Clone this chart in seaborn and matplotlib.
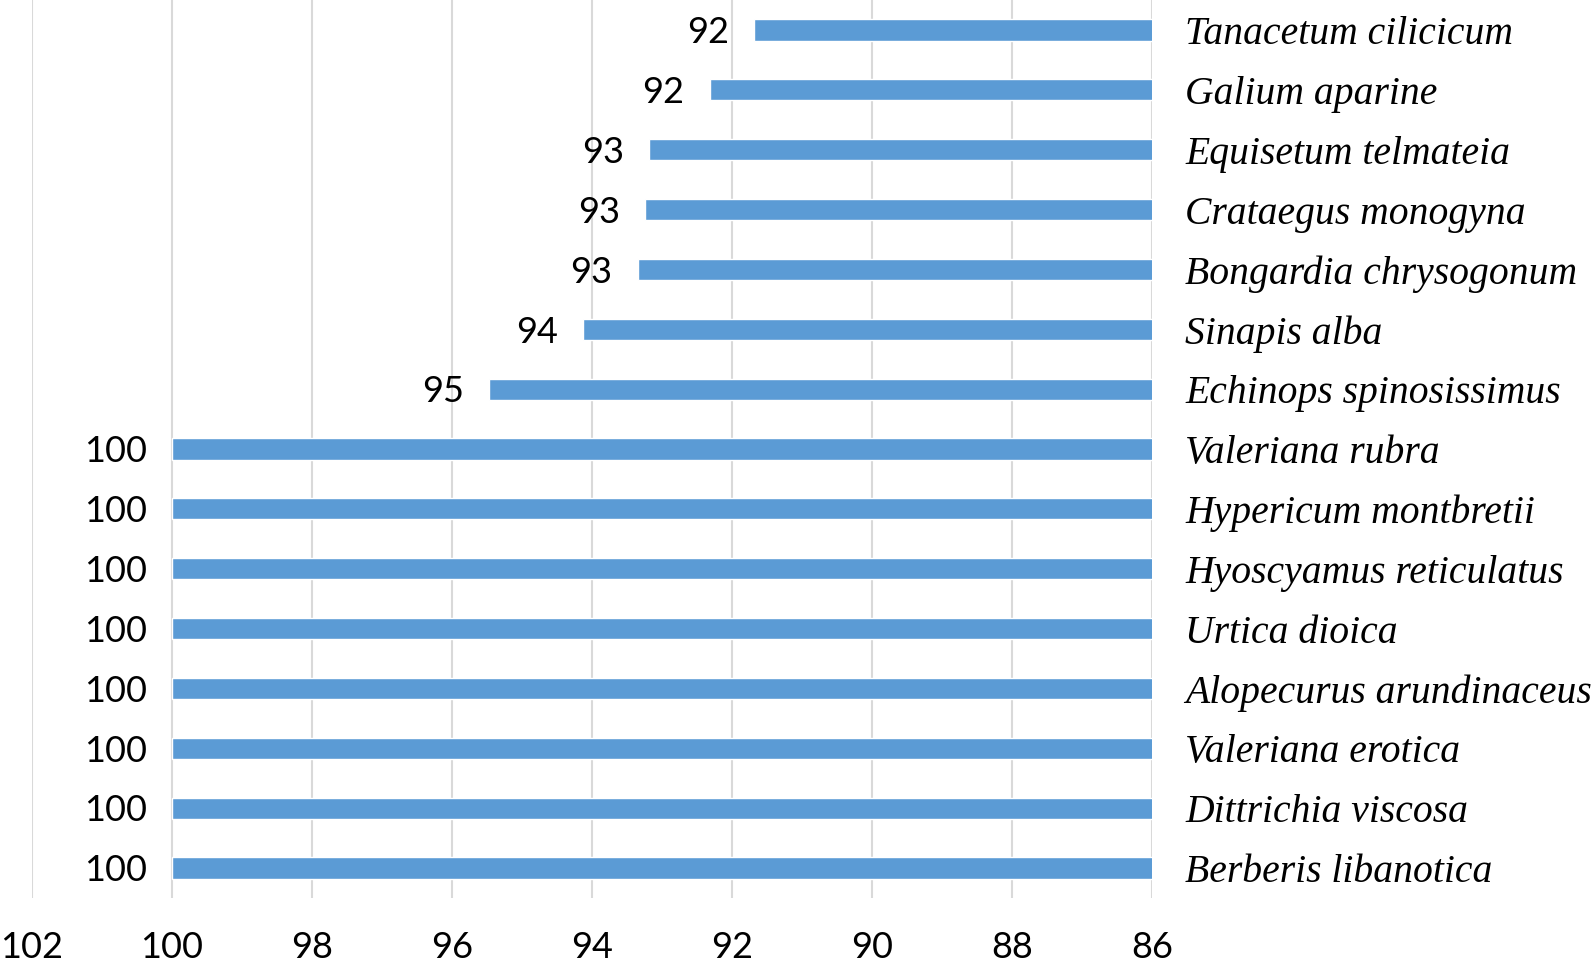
import matplotlib
matplotlib.use("Agg")
import matplotlib.pyplot as plt
import seaborn as sns
import pandas as pd

species = [
    "Tanacetum cilicicum", "Galium aparine", "Equisetum telmateia",
    "Crataegus monogyna", "Bongardia chrysogonum", "Sinapis alba",
    "Echinops spinosissimus", "Valeriana rubra", "Hypericum montbretii",
    "Hyoscyamus reticulatus", "Urtica dioica", "Alopecurus arundinaceus",
    "Valeriana erotica", "Dittrichia viscosa", "Berberis libanotica",
]
values = [91.69, 92.32, 93.19, 93.24, 93.35, 94.13, 95.47,
          100, 100, 100, 100, 100, 100, 100, 100]
x_ticks = [102, 100, 98, 96, 94, 92, 90, 88, 86]

df = pd.DataFrame({"species": species, "value": values})

sns.set_style("white")
plt.rcParams["font.family"] = ["Lato", "DejaVu Sans"]

fig = plt.figure(figsize=(15.93, 9.64), dpi=100)
ax = fig.add_axes([32 / 1593, 1 - 898 / 964, (1152 - 32) / 1593, 898 / 964])

sns.barplot(data=df, x="value", y="species", orient="h", color="#5B9BD5",
            saturation=1, width=0.355, ax=ax, zorder=3)

ax.set_xlim(102, 86)
ax.set_xticks(x_ticks)
ax.set_xticklabels([str(t) for t in x_ticks], fontsize=26, color="black")
ax.tick_params(axis="x", length=0, pad=24)
ax.grid(axis="x", color="#D9D9D9", linewidth=1.5, zorder=0)
ax.grid(axis="y", visible=False)
ax.set_axisbelow(True)

ax.yaxis.tick_right()
ax.tick_params(axis="y", length=0, pad=24)
for lbl in ax.get_yticklabels():
    lbl.set_fontfamily("Liberation Serif")
    lbl.set_fontstyle("italic")
    lbl.set_fontsize(28.5)
    lbl.set_color("black")

for i, v in enumerate(values):
    ax.annotate(f"{round(v)}", xy=(v, i), xytext=(-18, -2),
                textcoords="offset points", ha="right", va="center",
                fontsize=26, color="black", clip_on=False)

ax.set_xlabel("")
ax.set_ylabel("")
for s in ax.spines.values():
    s.set_visible(False)

fig.savefig("out.png", dpi=100)
